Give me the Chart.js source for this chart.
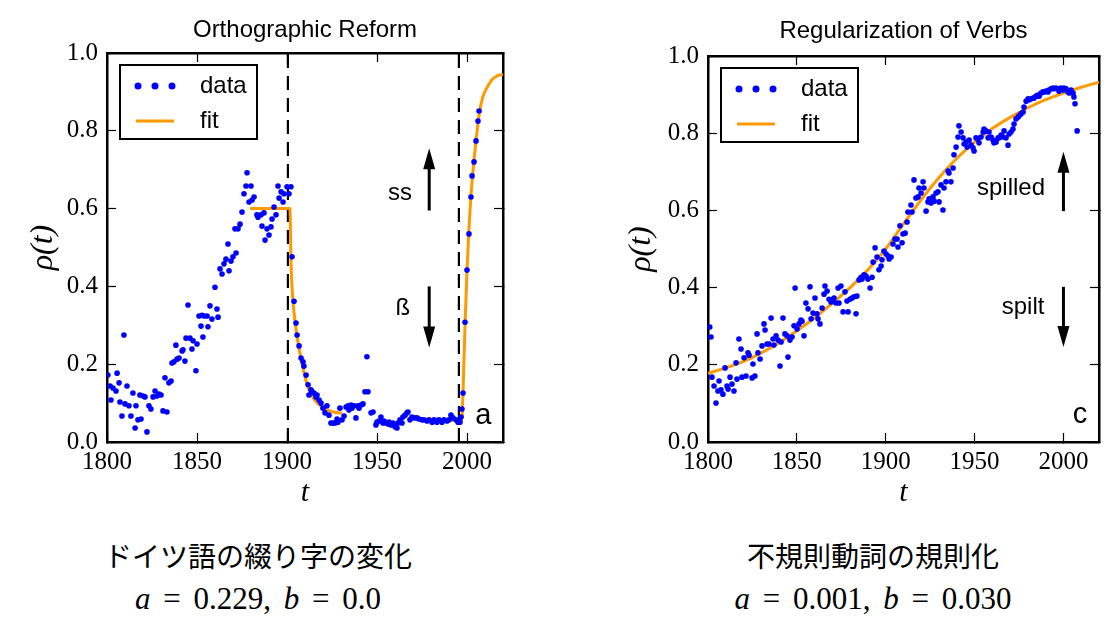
<!DOCTYPE html>
<html>
<head>
<meta charset="utf-8">
<script src="https://cdn.jsdelivr.net/npm/chart.js@4.4.1/dist/chart.umd.min.js"></script>
<style>
  body { margin: 0; background: #fff; width: 1105px; height: 618px; overflow: hidden; position: relative; }
  canvas { position: absolute; top: 0; }
  .cap { position: absolute; width: 400px; text-align: center; color: #000; }
  .jp { font-family: "Noto Sans CJK JP"; font-size: 28px; top: 535px; }
  .eq { font-family: "Liberation Serif"; font-size: 31px; word-spacing: 5px; top: 581px; }
</style>
</head>
<body>
<canvas id="ortho" width="552" height="520" style="left:0"></canvas>
<canvas id="verbs" width="553" height="520" style="left:552px"></canvas>
<div class="cap jp" style="left:58px">ドイツ語の綴り字の変化</div>
<div class="cap eq" style="left:58px"><i>a</i> = 0.229, <i>b</i> = 0.0</div>
<div class="cap jp" style="left:673px">不規則動詞の規則化</div>
<div class="cap eq" style="left:673px"><i>a</i> = 0.001, <i>b</i> = 0.030</div>
<script>
// ---- left panel: orthographic reform (ss -> ß) ----
const orthoYears = [
  1800.5,1801.7,1802.2,1803.3,1805.0,1805.6,1806.7,1807.2,1808.3,1809.4,1810.0,1811.1,1812.2,1813.3,1814.4,
  1815.6,1816.1,1817.2,1818.3,1818.9,1820.0,1821.1,1822.2,1823.3,1824.4,1825.6,1826.7,1827.8,1828.9,1830.0,
  1831.1,1832.2,1833.3,1834.4,1835.6,1836.1,1837.2,1838.3,1838.9,1840.0,1841.7,1842.2,1843.3,1843.9,1845.0,
  1846.1,1847.2,1847.8,1849.4,1850.0,1851.1,1852.2,1852.8,1853.3,1854.0,1855.6,1856.1,1857.2,1858.3,1860.0,
  1861.1,1861.7,1862.8,1863.9,1865.0,1866.1,1867.2,1867.8,1868.9,1870.0,1871.1,1871.7,1872.8,1873.9,1875.0,
  1876.1,1877.2,1877.8,1878.9,1880.0,1880.6,1881.7,1883.3,1883.9,1885.6,1886.1,1887.2,1887.8,1888.9,1890.0,
  1891.1,1891.7,1892.8,1893.9,1895.0,1895.6,1896.7,1897.8,1898.3,1900.0,1901.1,1902.2,1902.8,1903.9,1905.0,
  1905.6,1906.7,1907.8,1908.9,1909.4,1910.6,1911.7,1912.2,1913.3,1913.9,1915.0,1916.1,1916.7,1917.8,1918.9,
  1920.0,1921.1,1922.2,1923.3,1924.4,1925.6,1926.7,1927.8,1928.3,1929.4,1930.6,1931.7,1932.8,1933.9,1934.4,
  1935.6,1936.1,1937.2,1938.3,1939.4,1940.0,1941.1,1942.2,1943.3,1944.4,1945.0,1946.7,1947.8,1949.4,1950.0,
  1951.1,1952.2,1953.3,1953.9,1955.0,1956.1,1956.7,1957.8,1958.9,1960.0,1961.1,1961.7,1962.8,1963.9,1964.4,
  1965.6,1966.7,1967.2,1968.3,1969.4,1970.6,1972.2,1973.3,1975.0,1976.1,1977.8,1978.9,1980.6,1981.7,1983.3,
  1984.4,1986.1,1987.2,1988.9,1990.0,1991.1,1992.2,1993.9,1995.0,1996.1,1996.7,1997.2,1997.8,1998.9,2000.0,
  2001.1,2002.2,2002.8,2003.9,2005.0,2006.1,2006.7
];
const orthoRho = [
  .172,.144,.108,.139,.131,.177,.152,.103,.067,.275,.098,.144,.093,.067,.126,
  .036,.093,.057,.121,.059,.118,.116,.026,.093,.085,.116,.131,.118,.123,.121,
  .080,.165,.077,.152,.157,.203,.206,.249,.213,.216,.234,.237,.208,.267,.352,
  .267,.239,.260,.183,.252,.324,.298,.326,.270,.324,.324,.296,.350,.316,.398,
  .342,.321,.445,.432,.458,.470,.509,.440,.465,.476,.548,.486,.548,.560,.591,
  .638,.658,.692,.617,.658,.622,.630,.584,.578,.584,.555,.589,.519,.548,.532,
  .553,.573,.604,.584,.658,.627,.643,.617,.638,.656,.638,.656,.476,.362,.306,
  .275,.247,.216,.206,.195,.172,.147,.121,.134,.129,.126,.116,.121,.108,.100,
  .087,.075,.093,.069,.049,.049,.049,.059,.051,.087,.057,.067,.090,.093,.082,
  .095,.087,.093,.062,.093,.087,.095,.098,.129,.219,.129,.075,.077,.044,.051,
  .054,.064,.049,.054,.049,.046,.051,.044,.049,.039,.036,.049,.057,.049,.064,
  .069,.075,.077,.057,.064,.062,.062,.059,.057,.057,.054,.057,.051,.057,.051,
  .057,.051,.057,.054,.057,.069,.062,.057,.051,.051,.064,.085,.126,.308,.442,
  .535,.630,.684,.720,.774,.825,.851
];
// fit: plateau, decay, then the 1996 reform rise (null breaks the line)
const orthoFitYears = [1879.5,1901.6,1902.3,1903.3,1905,1906.7,1908.9,1911.7,1915,1920,1925,1930.5,
  1950,1975,1985,1993,1996.8,1997.3,1997.8,1998.9,2000,2001,2002,2003,2004,2005,2006,2007,2009,2011,2014,2017,2020];
const orthoFitRho = [0.6,0.6,0.45,0.365,0.29,0.24,0.19,0.14,0.11,0.088,0.078,0.074,
  null,0.057,0.056,0.055,0.052,0.07,0.13,0.3,0.44,0.54,0.62,0.68,0.73,0.775,0.815,0.85,0.89,0.91,0.932,0.942,0.945];
const orthoCuts = [1900.5, 1995.5];
const orthoArrows = [{x: 1979, from: 0.595, to: 0.755}, {x: 1979, from: 0.4, to: 0.243}];
const orthoNotes = [{text: 'ss', x: 1962.8, y: 0.64}, {text: 'ß', x: 1964.4, y: 0.344}, {text: 'a', x: 2009, y: 0.067, big: true}];

// ---- right panel: regularization of verbs (spilt -> spilled) ----
const verbYears = [
  1801.0,1801.7,1802.2,1803.4,1804.5,1805.6,1806.2,1807.3,1808.4,1809.6,1810.7,1811.3,1812.4,1813.5,1814.6,
  1815.8,1816.3,1817.4,1818.6,1819.1,1820.3,1821.4,1822.5,1823.1,1824.8,1825.3,1826.4,1827.6,1828.1,1829.3,
  1830.4,1831.5,1832.1,1833.2,1834.3,1835.5,1836.6,1837.1,1838.3,1839.4,1840.5,1841.1,1842.2,1843.3,1844.5,
  1845.0,1846.1,1847.3,1848.4,1849.0,1850.1,1851.2,1852.3,1852.9,1854.0,1855.1,1856.3,1857.4,1858.0,1859.1,
  1860.2,1861.3,1861.9,1863.0,1864.2,1865.3,1865.8,1867.0,1868.1,1869.2,1869.8,1870.9,1872.0,1873.2,1873.7,
  1874.8,1876.0,1877.1,1878.2,1878.8,1879.9,1881.0,1882.2,1883.3,1883.8,1885.0,1886.1,1886.7,1887.8,1888.9,
  1890.0,1891.2,1892.3,1892.9,1894.0,1895.1,1896.2,1897.4,1897.9,1899.0,1900.2,1901.3,1901.9,1903.0,1904.1,
  1905.2,1906.4,1906.9,1908.0,1909.2,1909.7,1910.9,1912.0,1912.5,1914.2,1914.8,1915.9,1917.0,1918.2,1918.7,
  1919.9,1921.0,1921.5,1922.7,1923.8,1924.4,1925.5,1926.6,1927.2,1928.3,1929.4,1930.0,1931.1,1932.2,1932.8,
  1933.9,1935.1,1935.6,1936.7,1937.9,1938.4,1939.6,1940.7,1941.2,1942.4,1943.5,1944.1,1945.2,1945.8,1946.9,
  1948.0,1949.1,1949.7,1950.8,1951.9,1952.5,1953.6,1954.8,1955.3,1956.4,1957.6,1958.1,1959.3,1960.4,1960.9,
  1962.1,1963.2,1963.8,1964.9,1966.0,1966.6,1967.7,1968.8,1969.4,1970.5,1971.6,1972.2,1973.3,1974.5,1975.0,
  1976.1,1977.3,1977.8,1979.0,1980.1,1980.6,1981.8,1982.9,1983.5,1984.6,1985.7,1986.3,1987.4,1988.5,1989.1,
  1990.2,1991.3,1991.9,1993.0,1994.1,1994.7,1995.8,1996.9,1997.5,1998.6,1999.8,2000.3,2001.5,2002.6,2003.2,
  2004.3,2005.4,2005.9,2006.5,2007.7
];
const verbRho = [
  .298,.272,.168,.145,.101,.132,.158,.135,.124,.192,.145,.137,.168,.150,.132,
  .205,.163,.267,.241,.168,.218,.171,.231,.225,.166,.202,.171,.280,.231,.215,
  .249,.306,.290,.254,.254,.321,.267,.251,.275,.264,.197,.259,.321,.280,.275,
  .220,.264,.272,.301,.399,.293,.306,.316,.313,.275,.360,.345,.402,.319,.334,
  .373,.332,.319,.306,.347,.383,.404,.391,.370,.363,.368,.373,.360,.399,.360,
  .404,.337,.389,.365,.337,.370,.373,.376,.332,.378,.420,.427,.422,.433,.430,
  .422,.399,.427,.466,.503,.479,.446,.456,.472,.495,.487,.482,.474,.479,.513,
  .526,.526,.505,.560,.516,.539,.541,.570,.596,.614,.596,.679,.632,.635,.658,
  .645,.674,.658,.598,.622,.630,.619,.635,.624,.645,.648,.622,.666,.601,.658,
  .674,.702,.697,.674,.710,.744,.764,.790,.819,.803,.788,.772,.777,.764,.782,
  .769,.762,.754,.788,.785,.775,.790,.803,.811,.806,.788,.803,.790,.782,.775,
  .777,.788,.788,.795,.790,.806,.788,.769,.798,.803,.811,.824,.837,.842,.845,
  .850,.855,.868,.883,.889,.886,.889,.891,.891,.896,.899,.896,.904,.907,.907,
  .909,.907,.912,.915,.917,.915,.917,.915,.909,.917,.912,.917,.915,.907,.904,
  .912,.904,.894,.876,.806
];
const verbFitYears = [1800,1810,1820,1830,1840,1850,1860,1870,1880,1890,1900,1910,1920,1930,1940,1950,1960,1970,1980,1990,2000,2010,2020];
const verbFitRho = [0.178,0.192,0.209,0.231,0.257,0.288,0.322,0.36,0.4,0.446,0.5,0.565,0.628,0.685,0.735,0.777,0.812,0.841,0.866,0.887,0.904,0.919,0.932];
const verbArrows = [{x: 2000, from: 0.598, to: 0.752}, {x: 2000, from: 0.402, to: 0.246}];
const verbNotes = [{text: 'spilled', x: 1970.5, y: 0.658}, {text: 'spilt', x: 1977.3, y: 0.35}, {text: 'c', x: 2009.3, y: 0.07, big: true}];

const BLUE = '#0000ff';
const ORANGE = '#ff9900';
const SANS = 'Liberation Sans';
const SERIF = 'Liberation Serif';

function pairs(xs, ys) {
  return xs.map((x, i) => ({x: x, y: ys[i]}));
}

// matplotlib-style legend box in the upper left of the axes
const legendBox = {
  id: 'legendBox',
  afterDatasetsDraw(chart) {
    const {ctx, chartArea} = chart;
    const x0 = chartArea.left + 13, y0 = chartArea.top + 12;
    ctx.save();
    ctx.fillStyle = '#fff';
    ctx.fillRect(x0, y0, 137, 74);
    ctx.strokeStyle = '#000';
    ctx.lineWidth = 2;
    ctx.strokeRect(x0, y0, 137, 74);
    ctx.fillStyle = BLUE;
    [18, 35, 52].forEach(dx => {
      ctx.beginPath();
      ctx.arc(x0 + dx, y0 + 21, 3.5, 0, Math.PI * 2);
      ctx.fill();
    });
    ctx.strokeStyle = ORANGE;
    ctx.lineWidth = 3;
    ctx.beginPath();
    ctx.moveTo(x0 + 16, y0 + 56);
    ctx.lineTo(x0 + 54, y0 + 56);
    ctx.stroke();
    ctx.fillStyle = '#000';
    ctx.font = '24px "' + SANS + '"';
    ctx.textBaseline = 'middle';
    ctx.textAlign = 'left';
    ctx.fillText(chart.data.datasets[0].label, x0 + 80, y0 + 21);
    ctx.fillText(chart.data.datasets[1].label, x0 + 80, y0 + 56);
    ctx.restore();
  }
};

// arrows and text notes placed in data coordinates
const notesPlugin = {
  id: 'notes',
  afterDatasetsDraw(chart, args, opts) {
    const {ctx, scales: {x, y}} = chart;
    ctx.save();
    ctx.fillStyle = '#000';
    ctx.strokeStyle = '#000';
    opts.arrows.forEach(a => {
      const px = x.getPixelForValue(a.x);
      const p0 = y.getPixelForValue(a.from), p1 = y.getPixelForValue(a.to);
      const dir = p1 < p0 ? 1 : -1;
      ctx.lineWidth = 3;
      ctx.beginPath();
      ctx.moveTo(px, p0);
      ctx.lineTo(px, p1 + dir * 18);
      ctx.stroke();
      ctx.beginPath();
      ctx.moveTo(px, p1);
      ctx.lineTo(px - 6, p1 + dir * 21);
      ctx.lineTo(px + 6, p1 + dir * 21);
      ctx.closePath();
      ctx.fill();
    });
    ctx.textAlign = 'center';
    ctx.textBaseline = 'middle';
    opts.notes.forEach(n => {
      ctx.font = (n.big ? 29 : 24) + 'px "' + SANS + '"';
      ctx.fillText(n.text, x.getPixelForValue(n.x), y.getPixelForValue(n.y));
    });
    ctx.restore();
  }
};

function makeChart(id, opt) {
  const frame = {display: true, color: '#000', width: 2.5};
  const grid = {drawOnChartArea: false, drawTicks: true, tickLength: -9, tickColor: '#000', tickWidth: 1.2};
  const tickFont = {family: SERIF, size: 25};
  const datasets = [
    {label: 'data', data: pairs(opt.years, opt.rho), backgroundColor: BLUE, borderWidth: 0, pointRadius: 2.8, pointHoverRadius: 2.8},
    {label: 'fit', data: pairs(opt.fitYears, opt.fitRho), showLine: true, borderColor: ORANGE, borderWidth: 3,
      pointRadius: 0, cubicInterpolationMode: 'monotone', spanGaps: false}
  ];
  (opt.cuts || []).forEach(c => datasets.push({
    label: 'cut', data: [{x: c, y: 0}, {x: c, y: 1}], showLine: true, borderColor: '#000',
    borderWidth: 2.2, borderDash: [14, 8], pointRadius: 0
  }));
  return new Chart(document.getElementById(id), {
    type: 'scatter',
    data: {datasets: datasets},
    plugins: [legendBox, notesPlugin],
    options: {
      responsive: false,
      animation: false,
      layout: {padding: {left: 0, top: 0, bottom: 0, right: opt.padRight}},
      plugins: {
        legend: {display: false},
        tooltip: {enabled: false},
        title: {display: true, text: opt.title, fullSize: false, color: '#000',
          font: {family: SANS, size: 24, weight: 'normal'}, padding: opt.titlePad},
        notes: {arrows: opt.arrows, notes: opt.notes}
      },
      scales: {
        x: {
          type: 'linear', position: 'bottom', min: 1800, max: 2020,
          afterFit: s => { s.height = 78; },
          ticks: {stepSize: 50, includeBounds: false, color: '#000', font: tickFont, padding: 14, maxRotation: 0,
            autoSkip: false, callback: v => String(v)},
          grid: grid, border: frame,
          title: {display: true, text: 't', color: '#000', font: {family: SERIF, size: 30, style: 'italic'}, padding: {bottom: 9}}
        },
        xTop: {
          type: 'linear', position: 'top', min: 1800, max: 2020,
          afterFit: s => { s.height = 0; },
          ticks: {display: false, stepSize: 50, includeBounds: false}, grid: grid, border: frame
        },
        y: {
          position: 'left', min: 0, max: 1,
          afterFit: s => { s.width = opt.axisWidth; },
          ticks: {stepSize: 0.2, color: '#000', font: tickFont, padding: 18, callback: v => v.toFixed(1)},
          grid: grid, border: frame,
          title: {display: true, text: 'ρ(t)', color: '#000', font: {family: SERIF, size: 32, style: 'italic'}, padding: {top: opt.yTitlePad}}
        },
        yRight: {
          position: 'right', min: 0, max: 1,
          afterFit: s => { s.width = 0; },
          ticks: {display: false, stepSize: 0.2}, grid: grid, border: frame
        }
      }
    }
  });
}

makeChart('ortho', {
  title: 'Orthographic Reform', titlePad: {top: 16, bottom: 8.2},
  years: orthoYears, rho: orthoRho, fitYears: orthoFitYears, fitRho: orthoFitRho,
  cuts: orthoCuts, arrows: orthoArrows, notes: orthoNotes,
  axisWidth: 107, padRight: 49, yTitlePad: 24
});
makeChart('verbs', {
  title: 'Regularization of Verbs', titlePad: {top: 17, bottom: 10.2},
  years: verbYears, rho: verbRho, fitYears: verbFitYears, fitRho: verbFitRho,
  cuts: [], arrows: verbArrows, notes: verbNotes,
  axisWidth: 156, padRight: 6, yTitlePad: 70
});
</script>
</body>
</html>
